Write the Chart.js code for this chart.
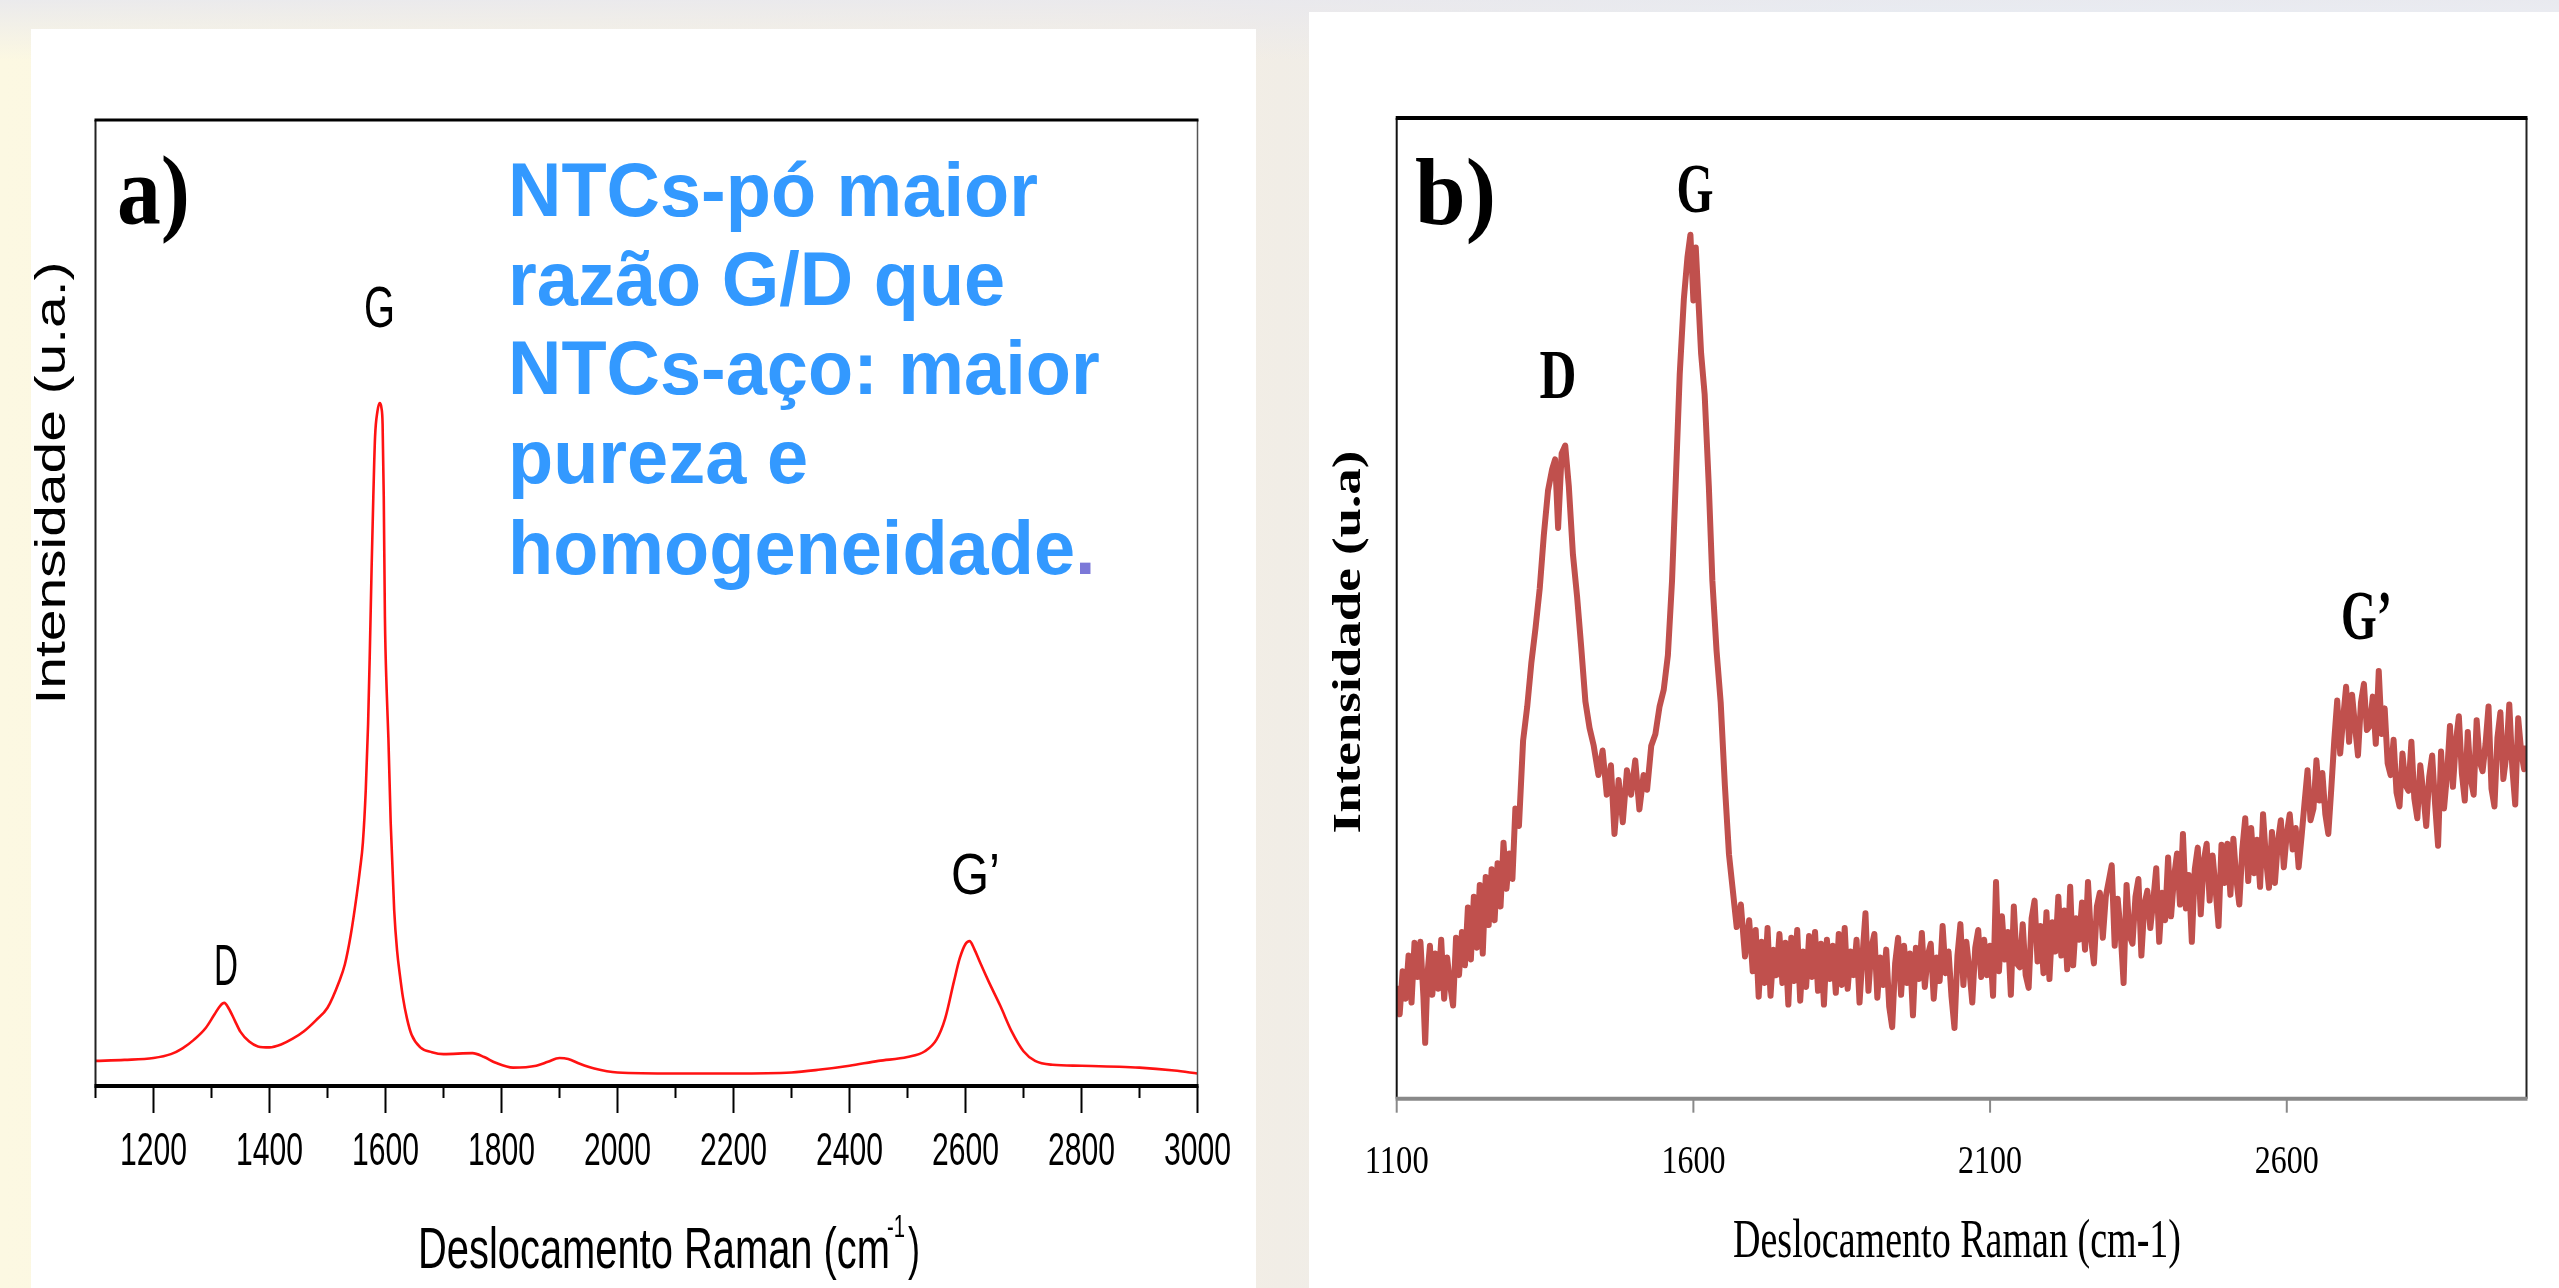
<!DOCTYPE html>
<html>
<head>
<meta charset="utf-8">
<script src="https://cdn.jsdelivr.net/npm/chart.js@4.4.1/dist/chart.umd.min.js"></script>
<style>
  html, body { margin: 0; padding: 0; }
  body {
    width: 2559px; height: 1288px; overflow: hidden; position: relative;
    background:
      linear-gradient(180deg, rgba(232,232,238,0.85) 0px, rgba(240,238,240,0) 60px),
      linear-gradient(90deg, #fcf8e2 0%, #f6f0e4 45%, #f1ede6 50%, #e9f2f7 75%, #eef2f6 100%);
  }
  canvas { position: absolute; background: #fff; }
  #chart-a { left: 31px; top: 29px; }
  #chart-b { left: 1309px; top: 12px; }
</style>
</head>
<body>
<canvas id="chart-a" width="1225" height="1259"></canvas>
<canvas id="chart-b" width="1250" height="1276"></canvas>
<script>
/* ── Data: a) NTCs-pó ── */
const aShift = [1100, 1150, 1200, 1230, 1250, 1270, 1290, 1305, 1315, 1322, 1330, 1340, 1350, 1365, 1380,
  1400, 1420, 1440, 1460, 1480, 1500, 1520, 1530, 1540, 1550, 1556, 1561, 1566, 1570, 1573, 1576, 1579,
  1582, 1586, 1590, 1593, 1595, 1597, 1599, 1602, 1605, 1609, 1615, 1620, 1625, 1630, 1637, 1645, 1660,
  1680, 1700, 1750, 1770, 1790, 1820, 1860, 1880, 1900, 1915, 1935, 1960, 2000, 2100, 2200, 2300, 2350,
  2400, 2450, 2500, 2530, 2550, 2565, 2580, 2590, 2600, 2607, 2615, 2625, 2640, 2660, 2680, 2700, 2720,
  2750, 2800, 2900, 2960, 3000];
const aIntensity = [2.6, 2.7, 2.9, 3.3, 3.9, 4.8, 6.0, 7.4, 8.3, 8.6, 8.0, 6.8, 5.6, 4.6, 4.1,
  4.0, 4.3, 4.9, 5.7, 6.8, 8.1, 10.8, 12.6, 15.6, 19.6, 22.4, 25.2, 30.7, 37.5, 45.0, 53.5, 61.0,
  67.2, 69.8, 70.7, 70.2, 68.5, 61.0, 48.5, 41.0, 36.0, 27.2, 18.2, 14.0, 11.4, 9.2, 7.0, 5.3, 4.0,
  3.5, 3.3, 3.4, 3.0, 2.4, 1.9, 2.1, 2.5, 2.9, 2.8, 2.3, 1.8, 1.4, 1.3, 1.3, 1.4, 1.7,
  2.1, 2.6, 3.0, 3.6, 4.8, 7.0, 10.8, 13.2, 14.7, 15.0, 14.2, 12.8, 10.8, 8.3, 5.6, 3.6, 2.6,
  2.2, 2.1, 1.9, 1.6, 1.3];
const aMajorTicks = [1200, 1400, 1600, 1800, 2000, 2200, 2400, 2600, 2800, 3000];
const aMinorTicks = [1100, 1300, 1500, 1700, 1900, 2100, 2300, 2500, 2700, 2900];
const aPeaks = ['D', 'G', 'G\u2019'];
const aNote = ['NTCs-pó maior', 'razão G/D que', 'NTCs-aço: maior', 'pureza e', 'homogeneidade'];

/* ── Data: b) NTCs-aço ── */
const bShift = [
  1100, 1105, 1110, 1115, 1120, 1125, 1130, 1135, 1140, 1145,
  1148, 1152, 1156, 1160, 1165, 1170, 1175, 1180, 1185, 1190,
  1195, 1200, 1205, 1210, 1215, 1220, 1225, 1230, 1235, 1240,
  1245, 1250, 1255, 1260, 1265, 1270, 1275, 1280, 1285, 1290,
  1295, 1300, 1306,
  1313, 1320, 1327, 1334, 1341, 1348, 1355, 1362, 1367, 1372,
  1378, 1384, 1390, 1397, 1404, 1411, 1418, 1425, 1432, 1440,
  1447, 1454, 1461, 1467, 1474, 1481, 1488, 1495, 1502, 1509,
  1516, 1522, 1529, 1536, 1543, 1550, 1557, 1564, 1570, 1577,
  1584, 1590, 1595, 1600, 1604, 1608, 1613, 1619, 1626, 1632,
  1639, 1646, 1653, 1660, 1666, 1673, 1680, 1687, 1694,
  1700, 1705, 1710, 1715, 1720, 1725, 1730, 1735, 1740, 1745, 1750,
  1755, 1760, 1765, 1770, 1775, 1780, 1785, 1790, 1795, 1800,
  1805, 1810, 1815, 1820, 1825, 1830, 1835, 1840, 1845, 1850,
  1855, 1860, 1865, 1870, 1875, 1880, 1885, 1890, 1895, 1900,
  1905, 1910, 1915, 1920, 1925, 1930, 1935, 1940, 1945, 1950,
  1955, 1960, 1965, 1970, 1975, 1980, 1985, 1990, 1995, 2000,
  2005, 2010, 2015, 2020, 2025, 2030, 2035, 2040, 2045, 2050,
  2055, 2060, 2065, 2070, 2075, 2080, 2085, 2090, 2095, 2100,
  2105, 2110, 2115, 2120, 2125, 2130, 2135, 2140, 2145, 2150,
  2155, 2160, 2165, 2170, 2175, 2180, 2185, 2190, 2195, 2200,
  2205, 2210, 2215, 2220, 2225, 2230, 2235, 2240, 2245, 2250,
  2255, 2260, 2265, 2270, 2275, 2280, 2285, 2290, 2295, 2300,
  2305, 2310, 2315, 2320, 2325, 2330, 2335, 2340, 2345, 2350,
  2355, 2360, 2365, 2370, 2375, 2380, 2385, 2390, 2395, 2400,
  2405, 2410, 2415, 2420, 2425, 2430, 2435, 2440, 2445, 2450,
  2455, 2460, 2465, 2470, 2475, 2480, 2485, 2490, 2495, 2500,
  2505, 2510, 2515, 2520, 2525, 2530, 2535, 2540, 2545, 2550,
  2555, 2560, 2565, 2570, 2575, 2580, 2585, 2590, 2595, 2600,
  2605, 2610, 2615, 2620, 2625, 2630, 2635, 2640, 2645, 2650,
  2655, 2660, 2665, 2670, 2675, 2680, 2685, 2690, 2695, 2700,
  2705, 2710, 2715, 2720, 2725, 2730, 2735, 2740, 2745, 2750,
  2755, 2760, 2765, 2770, 2775, 2780, 2785, 2790, 2795, 2800,
  2805, 2810, 2815, 2820, 2825, 2830, 2835, 2840, 2845, 2850,
  2855, 2860, 2865, 2870, 2875, 2880, 2885, 2890, 2895, 2900,
  2905, 2910, 2915, 2920, 2925, 2930, 2935, 2940, 2945, 2950,
  2955, 2960, 2965, 2970, 2975, 2980, 2985, 2990, 2995, 3000,
  3004];
const bIntensity = [
  11.5, 8.6, 13.0, 10.2, 14.6, 9.8, 15.9, 12.4, 16.0, 10.4,
  5.7, 12.8, 15.6, 10.6, 14.8, 11.2, 16.2, 10.2, 14.4, 11.6,
  9.5, 16.4, 12.6, 17.0, 13.6, 19.5, 14.2, 20.6, 15.4, 21.8,
  14.8, 22.6, 17.7, 23.4, 18.2, 24.0, 19.6, 26.1, 21.4, 25.0,
  22.4, 29.6, 27.8,
  36.5, 40.0, 44.5, 48.0, 52.0, 57.5, 62.0, 64.2, 65.2, 58.2,
  65.8, 66.6, 62.5, 55.5, 51.2, 46.0, 40.5, 37.8, 36.0, 33.0,
  35.5, 31.0, 34.0, 27.0, 32.5, 28.2, 33.5, 31.0, 34.5, 29.5,
  33.0, 31.5, 36.0, 37.2, 40.0, 41.7, 45.2, 52.8, 62.5, 73.9,
  81.6, 85.8, 88.1, 81.4, 86.8, 82.0, 76.0, 71.8, 62.5, 52.8,
  45.7, 40.4, 32.0, 24.9, 21.5, 17.5, 19.8, 14.5, 18.2,
  13.0, 17.2, 10.4, 16.0, 11.8, 17.4, 10.5, 15.2, 12.6, 16.8, 11.8,
  15.9, 9.6, 16.4, 12.0, 17.2, 10.0, 15.0, 11.4, 16.6, 12.4,
  17.0, 11.0, 15.8, 9.6, 16.2, 12.2, 15.6, 10.8, 16.8, 11.6,
  17.4, 11.2, 15.0, 12.6, 16.2, 9.8, 14.6, 18.9, 11.0, 15.4,
  16.8, 10.3, 14.4, 11.6, 15.2, 9.4, 7.3, 13.8, 16.4, 10.6,
  15.6, 11.8, 14.8, 8.5, 15.4, 12.2, 16.9, 11.4, 14.6, 15.8,
  10.2, 14.4, 12.0, 17.6, 12.8, 15.0, 10.4, 7.2, 14.6, 17.8,
  11.6, 16.0, 13.2, 9.8, 15.4, 17.2, 12.4, 16.2, 12.6, 15.6,
  10.5, 22.1, 13.0, 18.6, 14.2, 17.0, 10.6, 19.6, 13.8, 13.4,
  17.8, 12.6, 11.3, 18.4, 20.2, 14.0, 17.6, 12.8, 19.0, 12.2,
  18.0, 15.0, 20.6, 14.6, 19.2, 13.2, 21.6, 13.6, 18.4, 16.2,
  20.0, 15.2, 22.1, 16.4, 13.8, 19.6, 21.0, 16.4, 20.6, 22.2,
  23.8, 15.6, 20.4, 17.0, 11.8, 21.8, 16.6, 15.8, 20.6, 22.4,
  14.6, 19.8, 21.2, 17.4, 20.2, 23.5, 16.0, 21.0, 18.2, 24.6,
  18.6, 22.6, 25.0, 19.8, 27.0, 19.4, 22.8, 16.0, 23.4, 25.6,
  18.8, 24.2, 26.0, 20.2, 24.8, 21.4, 17.6, 25.9, 22.0, 26.0,
  20.8, 26.5, 22.4, 19.8, 25.4, 28.6, 22.2, 27.6, 23.0, 26.4,
  21.6, 29.0, 24.4, 21.5, 27.2, 22.0, 26.2, 28.4, 23.6, 27.0,
  29.0, 25.4, 27.6, 23.6, 26.8, 30.2, 33.5, 28.4, 29.6, 34.5,
  30.4, 33.2, 29.0, 27.0, 31.6, 36.5, 40.6, 35.2, 38.8, 42.0,
  36.4, 41.2, 38.0, 35.0, 40.4, 42.3, 37.6, 38.0, 41.0, 36.2,
  43.6, 37.2, 39.8, 34.2, 33.0, 36.6, 31.2, 29.8, 35.2, 32.0,
  31.4, 36.4, 30.6, 28.6, 34.0, 31.2, 27.8, 32.8, 35.0, 30.0,
  25.8, 35.4, 29.6, 33.0, 38.0, 31.8, 36.4, 39.0, 33.2, 30.4,
  37.4, 32.6, 31.0, 38.6, 34.4, 33.4, 36.2, 40.0, 31.6, 29.8,
  36.8, 39.4, 32.6, 35.0, 40.2, 33.8, 30.0, 38.8, 35.4, 33.6,
  36.0];
const bTicks = [1100, 1600, 2100, 2600];
const bPeaks = ['D', 'G', 'G\u2019'];

/* ── Text helper: draws text squeezed/stretched to a target width ── */
function drawText(ctx, s, x, y, o) {
  ctx.save();
  ctx.font = o.font;
  ctx.fillStyle = o.color || '#000';
  ctx.textBaseline = 'alphabetic';
  ctx.textAlign = 'left';
  const w = ctx.measureText(s).width;
  const sx = o.width ? o.width / w : (o.sx || 1);
  ctx.translate(x, y);
  if (o.rotate) ctx.rotate(o.rotate);
  ctx.scale(sx, o.sy || 1);
  const dx = o.align === 'center' ? -w / 2 : o.align === 'right' ? -w : 0;
  ctx.fillText(s, dx, 0);
  ctx.restore();
  return w * sx;
}

function line(ctx, x1, y1, x2, y2, color, width) {
  ctx.beginPath();
  ctx.moveTo(x1, y1);
  ctx.lineTo(x2, y2);
  ctx.strokeStyle = color;
  ctx.lineWidth = width;
  ctx.stroke();
}

/* ── Frame + labels for a) ── */
const frameA = {
  id: 'frameA',
  afterDraw(chart) {
    const ctx = chart.ctx;
    const { left, right, top, bottom } = chart.chartArea;
    const x = chart.scales.x;
    ctx.save();
    line(ctx, left, top, left, bottom, '#222', 2);
    line(ctx, right, top, right, bottom, '#555', 1.5);
    line(ctx, left - 1, top, right + 1, top, '#000', 3);
    line(ctx, left - 1, bottom, right + 1, bottom, '#000', 4);
    aMajorTicks.forEach(v => { const p = x.getPixelForValue(v); line(ctx, p, bottom, p, bottom + 27, '#000', 2); });
    aMinorTicks.forEach(v => { const p = x.getPixelForValue(v); line(ctx, p, bottom, p, bottom + 12, '#000', 2); });
    aMajorTicks.forEach(v => {
      drawText(ctx, String(v), x.getPixelForValue(v), bottom + 79, { font: '46px "Liberation Sans"', width: 67, align: 'center' });
    });

    // page coordinates from here on
    ctx.translate(-31, -29);
    const sans = '"Liberation Sans", Arial, sans-serif';
    const serif = '"Liberation Serif", "Times New Roman", serif';
    drawText(ctx, 'a)', 117, 223, { font: 'bold 98px ' + serif, width: 73 });
    drawText(ctx, aPeaks[0], 226, 985, { font: '57px ' + sans, width: 24, align: 'center' });
    drawText(ctx, aPeaks[1], 379.5, 327, { font: '58px ' + sans, width: 31, align: 'center' });
    drawText(ctx, aPeaks[2], 951, 894, { font: '57px ' + sans, width: 49 });

    // x title with superscript
    drawText(ctx, 'Deslocamento Raman (cm', 418, 1268, { font: '58px ' + sans, width: 472 });
    drawText(ctx, '-1', 887, 1237, { font: '32px ' + sans, width: 18 });
    drawText(ctx, ')', 908, 1268, { font: '58px ' + sans, width: 12 });

    // y title
    drawText(ctx, 'Intensidade (u.a.)', 65, 483, { font: '42px ' + sans, width: 443, align: 'center', rotate: -Math.PI / 2 });

    // note
    ctx.font = 'bold 76px ' + sans;
    const sx = 530 / ctx.measureText(aNote[0]).width;
    const baselines = [216, 305, 394, 483, 574];
    let endX = 0;
    aNote.forEach((t, i) => {
      endX = 508 + drawText(ctx, t, 508, baselines[i], { font: 'bold 76px ' + sans, sx, color: '#3399ff' });
    });
    drawText(ctx, '.', endX, baselines[4], { font: 'bold 76px ' + sans, sx, color: '#7b78d8' });
    ctx.restore();
  }
};

/* ── Frame + labels for b) ── */
const frameB = {
  id: 'frameB',
  afterDraw(chart) {
    const ctx = chart.ctx;
    const { left, right, top, bottom } = chart.chartArea;
    const x = chart.scales.x;
    const serif = '"Liberation Serif", "Times New Roman", serif';
    ctx.save();
    line(ctx, left, top, left, bottom, '#111', 2);
    line(ctx, right, top, right, bottom, '#222', 2);
    line(ctx, left - 1, top, right + 1, top, '#000', 4);
    line(ctx, left - 1, bottom, right + 1, bottom, '#898989', 4);
    bTicks.forEach(v => {
      const p = x.getPixelForValue(v);
      line(ctx, p, bottom, p, bottom + 14, '#898989', 2);
      drawText(ctx, String(v), p, bottom + 74, { font: '41px ' + serif, width: 64, align: 'center' });
    });

    ctx.translate(-1309, -12);
    drawText(ctx, 'b)', 1415, 224, { font: 'bold 95px ' + serif, width: 81 });
    drawText(ctx, bPeaks[0], 1558, 398, { font: 'bold 70px ' + serif, width: 37, align: 'center' });
    drawText(ctx, bPeaks[1], 1695, 212, { font: 'bold 70px ' + serif, width: 37, align: 'center' });
    drawText(ctx, bPeaks[2], 2341, 639, { font: 'bold 70px ' + serif, width: 51 });
    drawText(ctx, 'Deslocamento Raman (cm-1)', 1733, 1257, { font: '55px ' + serif, width: 448 });
    drawText(ctx, 'Intensidade (u.a)', 1360, 642, { font: 'bold 40px ' + serif, width: 383, align: 'center', rotate: -Math.PI / 2 });
    ctx.restore();
  }
};

function toPoints(xs, ys) {
  return xs.map((v, i) => ({ x: v, y: ys[i] }));
}

new Chart(document.getElementById('chart-a'), {
  type: 'line',
  data: {
    datasets: [{
      data: toPoints(aShift, aIntensity),
      borderColor: '#ff1212', borderWidth: 2.6,
      pointRadius: 0, cubicInterpolationMode: 'monotone', fill: false,
    }]
  },
  options: {
    responsive: false, animation: false, devicePixelRatio: 1,
    layout: { padding: { left: 64.5, top: 91, right: 58.5, bottom: 202 } },
    plugins: { legend: { display: false }, tooltip: { enabled: false } },
    scales: {
      x: { type: 'linear', min: 1100, max: 3000, display: false },
      y: { min: 0, max: 100, display: false }
    }
  },
  plugins: [frameA]
});

new Chart(document.getElementById('chart-b'), {
  type: 'line',
  data: {
    datasets: [{
      data: toPoints(bShift, bIntensity),
      borderColor: '#c0504d', borderWidth: 6, borderJoinStyle: 'round',
      pointRadius: 0, tension: 0, fill: false,
    }]
  },
  options: {
    responsive: false, animation: false, devicePixelRatio: 1,
    layout: { padding: { left: 87.7, top: 106, right: 32.5, bottom: 189.3 } },
    plugins: { legend: { display: false }, tooltip: { enabled: false } },
    scales: {
      x: { type: 'linear', min: 1100, max: 3004, display: false },
      y: { min: 0, max: 100, display: false }
    }
  },
  plugins: [frameB]
});
</script>
</body>
</html>
